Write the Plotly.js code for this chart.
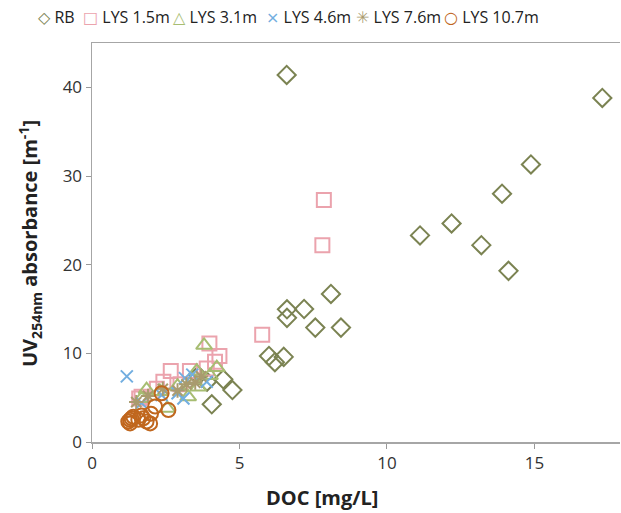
<!DOCTYPE html>
<html>
<head>
<meta charset="utf-8">
<script src="https://cdn.plot.ly/plotly-3.0.1.min.js"></script>
<style>html,body{margin:0;padding:0;background:#fff;}#chart{width:621px;height:513px;}</style>
</head>
<body>
<div id="chart"></div>
<script>
const seriesNames = ["RB", "LYS 1.5m", "LYS 3.1m", "LYS 4.6m", "LYS 7.6m", "LYS 10.7m"];
const legendGlyphs = ["\u25C7", "\u25A1", "\u25B3", "\u00D7", "\u2733", "\u25CB"];

const rbX = [6.6, 17.3, 14.88, 13.9, 12.19, 11.12, 13.2, 14.12, 8.1, 6.61, 6.61, 7.19, 7.57, 8.44, 6.0, 6.2, 6.5, 4.45, 4.76, 4.06, 3.9, 3.6];
const rbY = [41.4, 38.8, 31.3, 28.0, 24.65, 23.3, 22.2, 19.3, 16.7, 14.96, 14.0, 15.0, 12.9, 12.9, 9.7, 9.0, 9.6, 7.07, 5.86, 4.25, 6.8, 7.5];

const lys15X = [7.86, 7.81, 5.77, 3.98, 4.32, 4.17, 3.89, 3.32, 2.67, 2.42, 1.68, 1.6, 2.2, 3.0];
const lys15Y = [27.3, 22.2, 12.1, 11.1, 9.7, 9.05, 8.3, 8.0, 8.0, 6.8, 5.1, 4.9, 6.0, 6.5];

const lys31X = [3.8, 4.23, 3.55, 3.43, 3.26, 2.3, 1.85, 1.68, 2.55, 3.6, 2.9, 4.0];
const lys31Y = [10.9, 8.4, 8.0, 7.0, 5.1, 5.7, 5.9, 4.9, 3.8, 6.2, 6.3, 7.5];

const lys46X = [1.18, 3.15, 3.1, 3.89, 1.68, 2.36, 3.4, 2.9];
const lys46Y = [7.4, 7.2, 4.9, 6.8, 4.4, 5.3, 7.6, 5.5];

const lys76X = [2.4, 3.5, 3.7, 1.5, 2.9, 3.2, 1.9];
const lys76Y = [6.0, 6.7, 7.4, 4.5, 5.8, 6.5, 5.2];

const lys107X = [1.34, 1.74, 1.97, 2.14, 2.36, 2.59, 1.23, 1.4, 1.29, 1.57, 1.85, 1.29, 1.68, 2.0];
const lys107Y = [2.67, 2.67, 2.1, 4.0, 5.5, 3.6, 2.3, 2.85, 2.5, 2.5, 2.3, 2.1, 3.0, 3.2];

const xTicks = [0, 5, 10, 15];
const yTicks = [0, 10, 20, 30, 40];

const styles = [
  {symbol: "diamond-open", color: "#7b8352", size: 14},
  {symbol: "square-open", color: "#eba3ad", size: 14},
  {symbol: "triangle-up-open", color: "#a7bd72", size: 14},
  {symbol: "x-thin-open", color: "#72aee0", size: 12},
  {symbol: "asterisk-open", color: "#a99b6e", size: 12},
  {symbol: "circle-open", color: "#c0671e", size: 14}
];
const xs = [rbX, lys15X, lys31X, lys46X, lys76X, lys107X];
const ys = [rbY, lys15Y, lys31Y, lys46Y, lys76Y, lys107Y];

const traces = seriesNames.map((n, i) => ({
  type: "scatter", mode: "markers", name: n, x: xs[i], y: ys[i],
  marker: {symbol: styles[i].symbol, size: styles[i].size, color: styles[i].color,
           line: {color: styles[i].color, width: 2}}
}));

// legend entries laid out as text (pixel left edges of each entry)
const legendLeftPx = [36, 81, 171, 264, 354, 442];
const plotL = 92, plotW = 528, plotB = 442, plotH = 399;
const legendAnns = seriesNames.map((n, i) => ({
  text: "<span style='color:" + styles[i].color + ";font-family:DejaVu Sans'>" + legendGlyphs[i] + "</span> " + n,
  xref: "paper", yref: "paper", x: (legendLeftPx[i] - plotL) / plotW, y: (plotB - 17) / plotH,
  xanchor: "left", yanchor: "middle", showarrow: false, font: {size: 16, color: "#222"}
}));

const layout = {
  width: 621, height: 513,
  margin: {l: 92, r: 1, t: 43, b: 71},
  paper_bgcolor: "#fff", plot_bgcolor: "#fff",
  font: {family: "Open Sans, sans-serif", size: 16, color: "#333"},
  showlegend: false,
  xaxis: {range: [0, 17.9], tickvals: xTicks, ticks: "outside", ticklen: 5, tickcolor: "#999",
          showline: true, linecolor: "#a6a6a6", linewidth: 1.5, mirror: true, showgrid: false, zeroline: false,
          tickfont: {size: 17, color: "#333"}},
  yaxis: {range: [0, 45], tickvals: yTicks, ticks: "outside", ticklen: 5, tickcolor: "#999",
          showline: true, linecolor: "#a6a6a6", linewidth: 1.5, showgrid: false, zeroline: false,
          tickfont: {size: 17, color: "#333"}},
  annotations: legendAnns.concat([
    {text: "<b>DOC [mg/L]</b>", xref: "paper", yref: "paper", x: (322 - plotL) / plotW, y: (plotB - 497) / plotH,
     xanchor: "center", yanchor: "middle", showarrow: false, font: {size: 20, color: "#222"}},
    {text: "<b>UV<sub>254nm</sub> absorbance [m<sup>-1</sup>]</b>", xref: "paper", yref: "paper",
     x: (30 - plotL) / plotW, y: (plotB - 244) / plotH, textangle: -90,
     xanchor: "center", yanchor: "middle", showarrow: false, font: {size: 20, color: "#222"}}
  ])
};

Plotly.newPlot("chart", traces, layout, {displayModeBar: false, staticPlot: true});
</script>
</body>
</html>
